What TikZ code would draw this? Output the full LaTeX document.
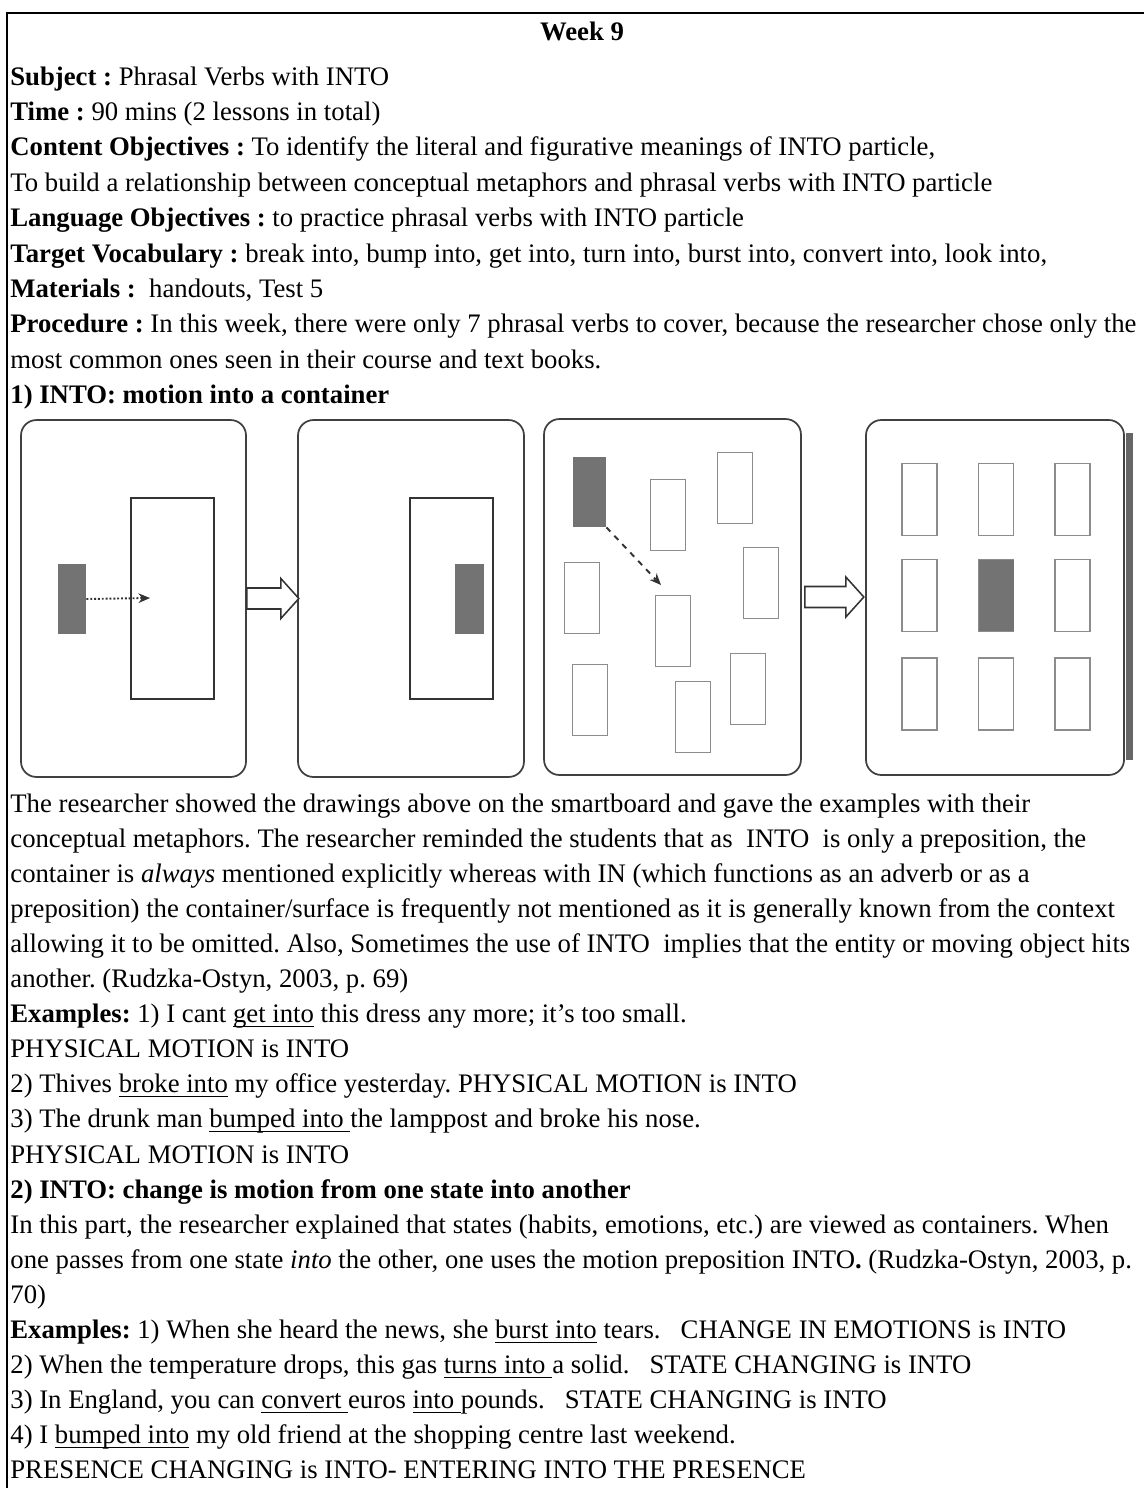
\documentclass[tikz,border=0pt]{standalone}
\usepackage{fontspec}
\setmainfont{Liberation Serif}
\usepackage{tikz}
\usetikzlibrary{positioning,arrows.meta}
\newcommand{\undl}[1]{\setbox0\hbox{#1}\rlap{\rule[-2.3pt]{\wd0}{0.7pt}}\box0\relax}
\frenchspacing

\begin{document}
\begin{tikzpicture}[x=0.52pt, y=-0.52pt,
  txt/.style={anchor=base west, inner sep=0pt, font=\fontsize{13.9}{16}\selectfont},
  panel/.style={draw=black!75, line width=0.9pt, rounded corners=8pt, inner sep=0pt},
  holder/.style={draw=black!80, line width=0.8pt, inner sep=0pt, minimum width=43.2pt, minimum height=104.5pt},
  slot/.style={draw=black!45, line width=0.6pt, inner sep=0pt, minimum width=18.2pt, minimum height=36.9pt},
  block/.style={fill=black!55, inner sep=0pt, minimum height=36.4pt},
  hollow/.style={draw=black!80, line width=0.8pt, fill=white},
  move/.style={-{Stealth[length=6pt,width=5pt]}, line width=1pt, black!80}]
\useasboundingbox (0,0) rectangle (1144,1488);
\draw[line width=1.1pt] (7,1488) -- (7,13) -- (1144,13);

% heading block
\node[txt, anchor=base, font=\fontsize{13.9}{16}\selectfont\bfseries] (week) at (582,40) {Week 9};
\node[txt] (subj) at (10,85) {\textbf{Subject :} Phrasal Verbs with INTO};
\node[txt] (time) at (10,120.4) {\textbf{Time :} 90 mins (2 lessons in total)};
\node[txt] (cobj) at (10,155.8) {\textbf{Content Objectives :} To identify the literal and figurative meanings of INTO particle,};
\node[txt] (cobj2) at (10,191.2) {To build a relationship between conceptual metaphors and phrasal verbs with INTO particle};
\node[txt] (lobj) at (10,226.6) {\textbf{Language Objectives :} to practice phrasal verbs with INTO particle};
\node[txt] (vocab) at (10,262) {\textbf{Target Vocabulary :} break into, bump into, get into, turn into, burst into, convert into, look into,};
\node[txt] (mater) at (10,297.4) {\textbf{Materials :}\ \ handouts, Test 5};
\node[txt] (proc) at (10,332.8) {\textbf{Procedure :} In this week, there were only 7 phrasal verbs to cover, because the researcher chose only the};
\node[txt] (proc2) at (10,368.2) {most common ones seen in their course and text books.};
\node[txt] (head1) at (10,403.6) {\textbf{1) INTO: motion into a container}};

% drawings
\node[panel, minimum width=117pt, minimum height=185.6pt] (pnlA) at (133.5,598.5) {};
\node[panel, minimum width=117.5pt, minimum height=185.6pt] (pnlB) at (411,598.5) {};
\node[panel, minimum width=133.6pt, minimum height=185.1pt] (pnlC) at (672.5,597) {};
\node[panel, minimum width=134.2pt, minimum height=184.6pt] (pnlD) at (995,597.5) {};
\fill[black!60] (1126,433) rectangle (1133,760);

\node[holder] (holdA) at (172.5,598.5) {};
\node[block, minimum width=14.6pt] (blkA) at (72,599) {};
\coordinate (tgtA) at (150,598);
\draw[move, densely dotted] (blkA.east) -- (tgtA);

\node[holder] (holdB) at (451.5,598.5) {};
\node[block, minimum width=15.1pt] (blkB) at (469.5,599) {};

\foreach \cx/\cy [count=\i] in {668/515, 735/488, 582/598, 673/631, 761/583, 590/700, 693/717, 748/689}
  \node[slot] (slotC\i) at (\cx,\cy) {};
\node[block, minimum width=17.2pt] (blkC) at (589.5,492) {};
\coordinate (tgtC) at (661,585);
\draw[move, dashed] (blkC.south east) -- (tgtC);

\foreach \cx in {919.5, 996, 1072.5}
  \foreach \cy in {499.5, 595.5, 694}
    \node[slot, minimum height=37.4pt] at (\cx,\cy) {};
\node[block, minimum width=18.2pt, minimum height=37.4pt] (blkD) at (996,595.5) {};

\draw[hollow] (pnlA.east) ++(0,-10.5) -- ++(34,0) -- ++(0,-9.5) -- ++(18,20) -- ++(-18,20) -- ++(0,-9.5) -- ++(-34,0) -- cycle;
\draw[hollow] (pnlC.east) ++(3,-10.5) -- ++(41,0) -- ++(0,-9.5) -- ++(18,20) -- ++(-18,20) -- ++(0,-9.5) -- ++(-41,0) -- cycle;

% text below the drawings
\node[txt] (para1) at (10,812) {The researcher showed the drawings above on the smartboard and gave the examples with their};
\node[txt] (para2) at (10,847.1) {conceptual metaphors. The researcher reminded the students that as\ \ INTO\ \ is only a preposition, the};
\node[txt] (para3) at (10,882.2) {container is \textit{always} mentioned explicitly whereas with IN (which functions as an adverb or as a};
\node[txt] (para4) at (10,917.3) {preposition) the container/surface is frequently not mentioned as it is generally known from the context};
\node[txt] (para5) at (10,952.4) {allowing it to be omitted. Also, Sometimes the use of INTO\ \ implies that the entity or moving object hits};
\node[txt] (para6) at (10,987.5) {another. (Rudzka-Ostyn, 2003, p. 69)};
\node[txt] (ex1) at (10,1022.6) {\textbf{Examples:} 1) I cant \undl{get into} this dress any more; it’s too small.};
\node[txt] (ex1b) at (10,1057.7) {PHYSICAL MOTION is INTO};
\node[txt] (ex2) at (10,1092.8) {2) Thives \undl{broke into} my office yesterday. PHYSICAL MOTION is INTO};
\node[txt] (ex3) at (10,1127.9) {3) The drunk man \undl{bumped into\ }the lamppost and broke his nose.};
\node[txt] (ex3b) at (10,1163) {PHYSICAL MOTION is INTO};
\node[txt] (head2) at (10,1198.1) {\textbf{2) INTO: change is motion from one state into another}};
\node[txt] (part1) at (10,1233.2) {In this part, the researcher explained that states (habits, emotions, etc.) are viewed as containers. When};
\node[txt] (part2) at (10,1268.3) {one passes from one state \textit{into} the other, one uses the motion preposition INTO\textbf{.} (Rudzka-Ostyn, 2003, p.};
\node[txt] (part3) at (10,1303.4) {70)};
\node[txt] (exb1) at (10,1338.5) {\textbf{Examples:} 1) When she heard the news, she \undl{burst into} tears.\ \ \ CHANGE IN EMOTIONS is INTO};
\node[txt] (exb2) at (10,1373.6) {2) When the temperature drops, this gas \undl{turns into\ }a solid.\ \ \ STATE CHANGING is INTO};
\node[txt] (exb3) at (10,1408.7) {3) In England, you can \undl{convert\ }euros \undl{into\ }pounds.\ \ \ STATE CHANGING is INTO};
\node[txt] (exb4) at (10,1443.8) {4) I \undl{bumped into} my old friend at the shopping centre last weekend.};
\node[txt] (exb4b) at (10,1478.9) {PRESENCE CHANGING is INTO- ENTERING INTO THE PRESENCE};
\end{tikzpicture}
\end{document}
